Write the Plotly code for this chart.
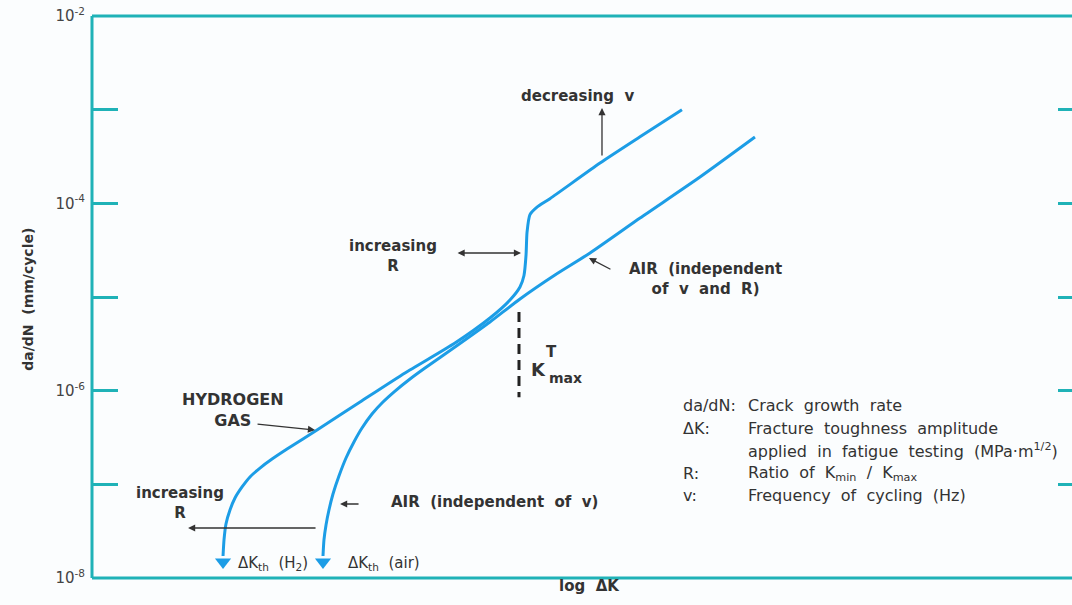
import numpy as np
import plotly.graph_objects as go

# log(ΔK) positions (arbitrary units) and log10(da/dN) for each environment
dk_h2 = [1.337, 1.347, 1.367, 1.408, 1.459, 1.531, 1.612, 1.714, 1.837, 1.990,
         2.296, 2.735, 3.194, 3.704, 4.061, 4.265, 4.367, 4.408, 4.429, 4.439,
         4.469, 4.541, 4.673, 5.184, 5.592, 6.020]
log_rate_h2 = [-7.765, -7.594, -7.423, -7.274, -7.146, -7.028, -6.921, -6.826, -6.730, -6.623,
               -6.420, -6.121, -5.811, -5.491, -5.224, -5.032, -4.893, -4.77, -4.55, -4.31,
               -4.12, -4.04, -3.95, -3.57, -3.29, -3.00]

dk_air = [2.357, 2.367, 2.388, 2.418, 2.459, 2.520, 2.592, 2.673, 2.755, 2.857,
          2.969, 3.092, 3.245, 3.398, 3.704, 4.061, 4.367, 4.724, 5.082, 5.592,
          6.204, 6.765]
log_rate_air = [-7.765, -7.594, -7.434, -7.274, -7.103, -6.911, -6.719, -6.548, -6.399, -6.249,
                -6.121, -6.004, -5.875, -5.758, -5.534, -5.267, -5.021, -4.765, -4.530, -4.157,
                -3.719, -3.292]

# threshold arrow tips (ΔK_th) and K_max^T marker line
dk_th = [1.337, 2.357]
log_rate_th = [-7.83, -7.83]
dk_kmax = [4.357, 4.357]
log_rate_kmax = [-5.16, -6.07]

decade_exps = [-8, -7, -6, -5, -4, -3, -2]
decade_labels = ["10<sup>-8</sup>", "", "10<sup>-6</sup>", "", "10<sup>-4</sup>", "", "10<sup>-2</sup>"]

BLUE = "#1c9de6"
TEAL = "#1fb2b7"
INK = "#333333"
FONT = "DejaVu Sans"

rate_h2 = 10.0 ** np.array(log_rate_h2)
rate_air = 10.0 ** np.array(log_rate_air)
rate_th = 10.0 ** np.array(log_rate_th)
rate_kmax = 10.0 ** np.array(log_rate_kmax)
decade_vals = [10.0 ** e for e in decade_exps]

fig = go.Figure()
fig.add_trace(go.Scatter(x=dk_h2, y=rate_h2, mode="lines",
                         line=dict(color=BLUE, width=3, shape="spline", smoothing=0.6),
                         hoverinfo="skip", showlegend=False))
fig.add_trace(go.Scatter(x=dk_air, y=rate_air, mode="lines",
                         line=dict(color=BLUE, width=3, shape="spline", smoothing=0.6),
                         hoverinfo="skip", showlegend=False))
fig.add_trace(go.Scatter(x=dk_th, y=rate_th, mode="markers",
                         marker=dict(symbol="triangle-down", size=14, color=BLUE),
                         hoverinfo="skip", showlegend=False))
fig.add_trace(go.Scatter(x=dk_kmax, y=rate_kmax, mode="lines",
                         line=dict(color="#222222", width=3, dash="10px,6px"),
                         hoverinfo="skip", showlegend=False))
# carrier for the right-hand tick axis
fig.add_trace(go.Scatter(x=dk_air, y=rate_air, mode="lines", yaxis="y2", opacity=0,
                         hoverinfo="skip", showlegend=False))


def note(x, y, text, size=15, bold=True, xanchor="center", **kw):
    fig.add_annotation(x=x, y=y, text=f"<b>{text}</b>" if bold else text,
                       showarrow=False, xanchor=xanchor, yanchor="middle",
                       font=dict(family=FONT, size=size, color=INK), **kw)


def pointer(x, y, ax, ay, side="end"):
    fig.add_annotation(x=x, y=y, ax=ax, ay=ay, text="", showarrow=True,
                       arrowhead=2, arrowsize=1.1, arrowwidth=1.3,
                       arrowcolor=INK, arrowside=side)


note(4.949, -2.854, "decreasing  v")
pointer(5.204, -2.982, 0, 49)

note(3.071, -4.562, "increasing<br>R")
pointer(4.378, -4.530, -65, 0, side="end+start")

note(6.265, -4.808, "AIR  (independent<br>of  v  and  R)")
pointer(5.071, -4.584, 23, 12)

note(1.439, -6.206, "HYDROGEN<br>GAS", size=16)
pointer(2.276, -6.420, -59, -6)

note(0.898, -7.199, "increasing<br>R")
pointer(0.980, -7.466, 129, 0)

note(4.102, -7.189, "AIR  (independent  of  v)")
pointer(2.531, -7.210, 20, 0)

note(1.469, -7.840, "ΔK<sub>th</sub>  (H<sub>2</sub>)", bold=False, xanchor="left")
note(2.592, -7.840, "ΔK<sub>th</sub>  (air)", bold=False, xanchor="left")

note(4.551, -5.779, "K", size=18)
note(4.684, -5.587, "T", size=15)
note(4.827, -5.865, "max", size=14)

legend_rows = [
    (-6.153, "da/dN:", "Crack  growth  rate"),
    (-6.399, "ΔK:", "Fracture  toughness  amplitude"),
    (-6.644, "", "applied  in  fatigue  testing  (MPa·m<sup>1/2</sup>)"),
    (-6.879, "R:", "Ratio  of  K<sub>min</sub>  /  K<sub>max</sub>"),
    (-7.114, "v:", "Frequency  of  cycling  (Hz)"),
]
for y, key, desc in legend_rows:
    if key:
        note(6.010, y, key, size=16, bold=False, xanchor="left")
    note(6.673, y, desc, size=16, bold=False, xanchor="left")

fig.add_annotation(x=0.508, y=-0.034, xref="paper", yref="paper", text="<b>log  ΔK</b>",
                   showarrow=False, font=dict(family=FONT, size=15, color=INK))
fig.add_annotation(x=-0.0755, y=0.495, xref="paper", yref="paper",
                   text="<b>da/dN  (mm/cycle)</b>", textangle=-90, showarrow=False,
                   font=dict(family=FONT, size=14, color=INK))

# frame: top, bottom and left edges
for x0, y0, x1, y1 in [(0, 1, 1, 1), (0, 0, 1, 0), (0, 0, 0, 1)]:
    fig.add_shape(type="line", xref="paper", yref="paper", x0=x0, y0=y0, x1=x1, y1=y1,
                  line=dict(color=TEAL, width=3))

fig.update_layout(
    width=1072, height=605,
    margin=dict(l=92, r=0, t=16, b=27),
    paper_bgcolor="#fbfdfe", plot_bgcolor="#fbfdfe",
    xaxis=dict(range=[0, 10], visible=False, fixedrange=True),
    yaxis=dict(type="log", range=[-8, -2], showgrid=False, zeroline=False, showline=False,
               tickvals=decade_vals, ticktext=decade_labels,
               ticks="inside", ticklen=26, tickwidth=3, tickcolor=TEAL,
               ticklabelstandoff=6,
               tickfont=dict(family=FONT, size=15, color="#444444")),
    yaxis2=dict(type="log", range=[-8, -2], overlaying="y", side="right",
                showgrid=False, zeroline=False, showline=False, showticklabels=False,
                tickvals=decade_vals, ticks="inside", ticklen=14, tickwidth=3,
                tickcolor=TEAL),
    showlegend=False,
)

fig.write_html("out.html")
